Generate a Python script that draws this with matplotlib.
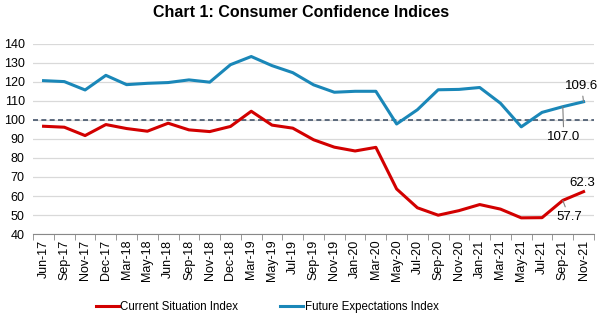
import matplotlib.pyplot as plt

plt.rcParams['font.family'] = ['Liberation Sans', 'DejaVu Sans']

months = ['Jun-17', 'Sep-17', 'Nov-17', 'Dec-17', 'Mar-18', 'May-18', 'Jun-18',
          'Sep-18', 'Nov-18', 'Dec-18', 'Mar-19', 'May-19', 'Jul-19', 'Sep-19',
          'Nov-19', 'Jan-20', 'Mar-20', 'May-20', 'Jul-20', 'Sep-20', 'Nov-20',
          'Jan-21', 'Mar-21', 'May-21', 'Jul-21', 'Sep-21', 'Nov-21']

current_situation = [96.7, 96.2, 91.8, 97.6, 95.5, 94.1, 98.3, 94.8, 93.9, 96.6,
                     104.6, 97.3, 95.7, 89.6, 85.7, 83.7, 85.6, 63.7, 53.8, 49.9,
                     52.3, 55.5, 53.1, 48.5, 48.6, 57.7, 62.3]

future_expectations = [120.7, 120.2, 115.8, 123.5, 118.6, 119.3, 119.7, 121.1,
                       119.9, 129.1, 133.4, 128.6, 124.9, 118.5, 114.6, 115.1,
                       115.1, 97.9, 105.4, 115.9, 116.1, 117.1, 108.8, 96.4,
                       104.0, 107.0, 109.6]

red = '#D20000'
blue = '#1A87B8'

fig = plt.figure(figsize=(6.03, 3.21), dpi=100)
ax = fig.add_axes([0.055, 0.271, 0.930, 0.592])

x = list(range(len(months)))
ax.axhline(100, color='#44546A', lw=1.2, ls=(0, (3, 2)), zorder=2)
ax.plot(x, current_situation, color=red, lw=2.2, label='Current Situation Index', zorder=3)
ax.plot(x, future_expectations, color=blue, lw=2.2, label='Future Expectations Index', zorder=3)

ax.set_ylim(40, 140)
ax.set_yticks(range(40, 141, 10))
ax.set_xlim(-0.5, len(months) - 0.5)
ax.set_xticks(x)
ax.set_xticklabels(months, rotation=90, fontsize=9)
ax.set_xticks([i - 0.5 for i in range(len(months) + 1)], minor=True)
ax.tick_params(axis='x', which='major', length=0, pad=4)
ax.tick_params(axis='x', which='minor', length=4, color='#888888')
ax.tick_params(axis='y', length=0, labelsize=9, pad=6)

ax.grid(axis='y', color='#D9D9D9', lw=0.9, zorder=0)
for s in ['top', 'right', 'left']:
    ax.spines[s].set_visible(False)
ax.spines['bottom'].set_color('#888888')

# data labels
lead = dict(arrowstyle='-', color='#808080', lw=0.8, shrinkA=1, shrinkB=0)
ax.annotate('109.6', xy=(26, 109.6), xytext=(25.9, 117.9), ha='center', va='center',
            fontsize=9.5, arrowprops=lead)
ax.annotate('107.0', xy=(25, 107.0), xytext=(25.05, 91.1), ha='center', va='center',
            fontsize=9.5, arrowprops=lead)
ax.annotate('62.3', xy=(26, 62.3), xytext=(25.95, 66.8), ha='center', va='center',
            fontsize=9.5)
ax.annotate('57.7', xy=(25, 57.7), xytext=(25.3, 49.0), ha='center', va='center',
            fontsize=9.5, arrowprops=lead)

fig.suptitle('Chart 1: Consumer Confidence Indices', fontsize=11.5, fontweight='bold',
             x=0.5, y=0.985)
fig.legend(loc='center', bbox_to_anchor=(0.443, 0.045), ncol=2, frameon=False,
           fontsize=8.3, handlelength=2.0, handletextpad=0.15, columnspacing=3.6)

fig.savefig('out.png', dpi=100)
